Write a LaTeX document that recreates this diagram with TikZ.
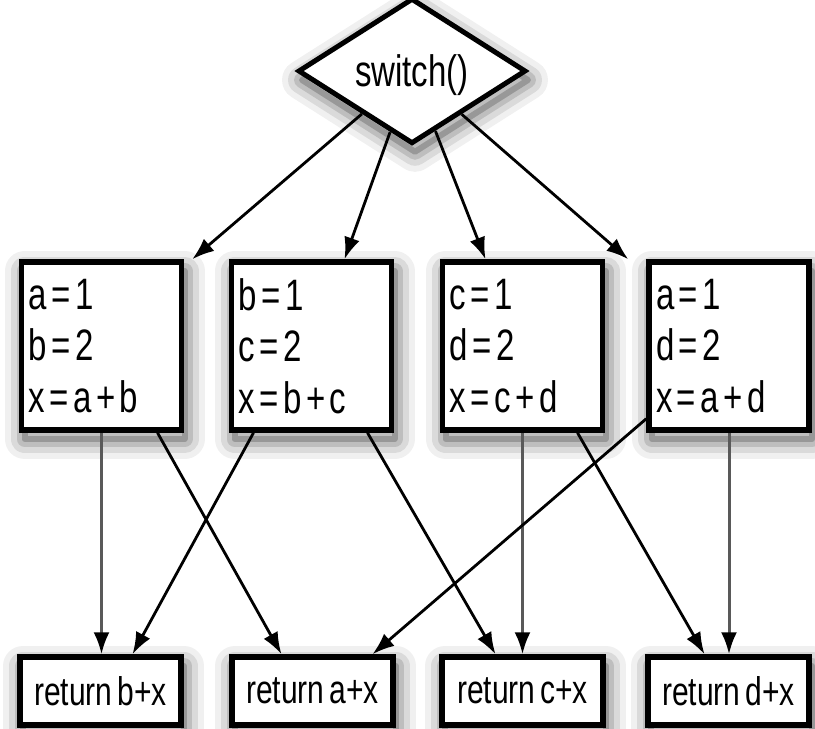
\documentclass[tikz,border=0pt]{standalone}
\usepackage{fontspec}
\setmainfont{Liberation Sans}[FakeStretch=0.75, WordSpace=0.6]
\usepackage{tikz}
\usetikzlibrary{arrows.meta,shapes.geometric}
\newcommand{\boxfont}{\fontsize{44pt}{51.5pt}\selectfont}
\newcommand{\retfont}{\fontsize{40pt}{44pt}\selectfont}
\newcommand{\eq}{\kern4.5pt=\kern4.5pt}
\newcommand{\pl}{\kern4.5pt+\kern4.5pt}

\begin{document}
\begin{tikzpicture}[x=1pt, y=-1pt,
    every node/.style={font=\boxfont},
    shadow layer/.style 2 args={preaction={draw=black, line width=#1,
        line join=round, opacity=#2,
        transform canvas={shift={(3pt,-9pt)}}}},
    soft shadow/.style={shadow layer={40pt}{0.06}, shadow layer={28pt}{0.09},
        shadow layer={16pt}{0.13}, shadow layer={6pt}{0.2}},
    casebox/.style={draw, line width=5.5pt, fill=white, soft shadow,
        minimum width=160pt, minimum height=168pt, text width=146pt,
        inner xsep=7pt, align=flush left},
    retbox/.style={draw, line width=5.5pt, fill=white, soft shadow,
        minimum width=161pt, minimum height=68pt, inner sep=0pt,
        font=\retfont},
    flow/.style={line width=2.8pt, -{Latex[length=22pt, width=16pt]}},
    vflow/.style={line width=3pt, draw=black!65,
        -{Latex[length=22pt, width=16pt, color=black]}}]
    \useasboundingbox (0,0) rectangle (815,729);

    \node[diamond, draw, line width=5pt, fill=white, soft shadow,
        minimum width=228pt, minimum height=124pt, inner sep=0pt,
        text depth=0pt] (sw) at (412,71) {switch()};

    \foreach \i/\x/\code in {1/101.5/{a\eq 1\\b\eq 2\\x\eq a\pl b},
                             2/311.5/{b\eq 1\\c\eq 2\\x\eq b\pl c},
                             3/522.5/{c\eq 1\\d\eq 2\\x\eq c\pl d},
                             4/729/{a\eq 1\\d\eq 2\\x\eq a\pl d}} {
        \node[casebox] (s\i) at (\x,346) {\code};
    }
    \foreach \i/\x/\v in {1/100.5/b, 2/312.5/a, 3/522.5/c, 4/728.5/d} {
        \node[retbox] (r\i) at (\x,691) {return \v+x};
    }

    % switch into the four cases
    \draw[flow] (sw) -- ([xshift=8pt]s1.north east);
    \draw[flow] (sw) -- ([xshift=33pt]s2.north);
    \draw[flow] (sw) -- ([xshift=-37pt]s3.north);
    \draw[flow] (sw) -- ([xshift=-18pt]s4.north west);

    % cases into the returns
    \draw[vflow] (s1.south) -- (s1.south |- r1.north);
    \draw[flow] ([xshift=56pt]s1.south) -- ([xshift=-31pt]r2.north);
    \draw[flow] ([xshift=-58pt]s2.south) -- ([xshift=32pt]r1.north);
    \draw[flow] ([xshift=56pt]s2.south) -- ([xshift=-27pt]r3.north);
    \draw[vflow] (s3.south) -- (s3.south |- r3.north);
    \draw[flow] ([xshift=55pt]s3.south) -- ([xshift=-24pt]r4.north);
    \draw[flow] ([yshift=14pt]s4.south west) -- ([xshift=60pt]r2.north);
    \draw[vflow] (s4.south) -- (s4.south |- r4.north);
\end{tikzpicture}
\end{document}
